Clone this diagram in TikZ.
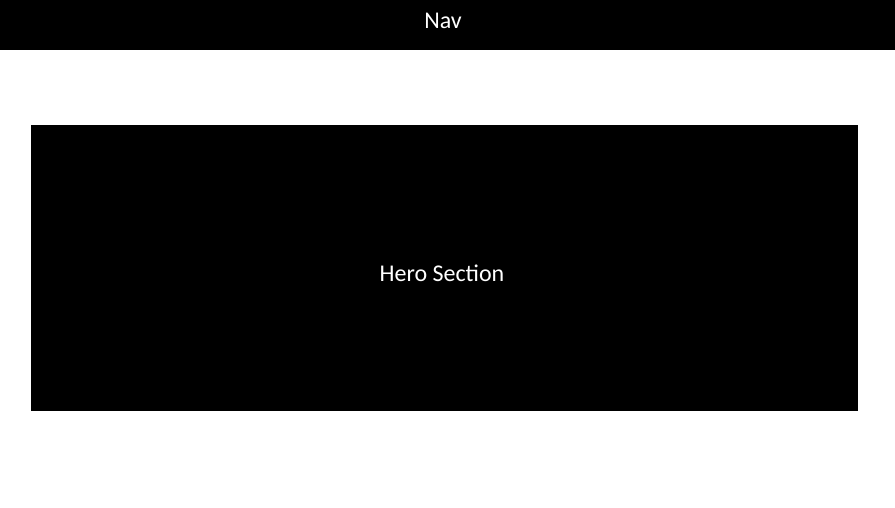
\documentclass[tikz,border=0pt]{standalone}
\usepackage{fontspec}
\setmainfont{Carlito}
\begin{document}
\begin{tikzpicture}[x=1pt,y=-1pt,
  block/.style={fill=black,draw=none},
  lbl/.style={text=white,font=\fontsize{24}{28}\selectfont,inner sep=0pt}]
\useasboundingbox (0,0) rectangle (895,508);
\fill[white] (0,0) rectangle (895,508);
\fill[block] (0,0) rectangle (895,50);
\node[lbl] (nav) at (443,21) {Nav};
\fill[block] (31,125) rectangle (858,411);
\node[lbl] (hero) at (442,273) {Hero Section};
\end{tikzpicture}
\end{document}
